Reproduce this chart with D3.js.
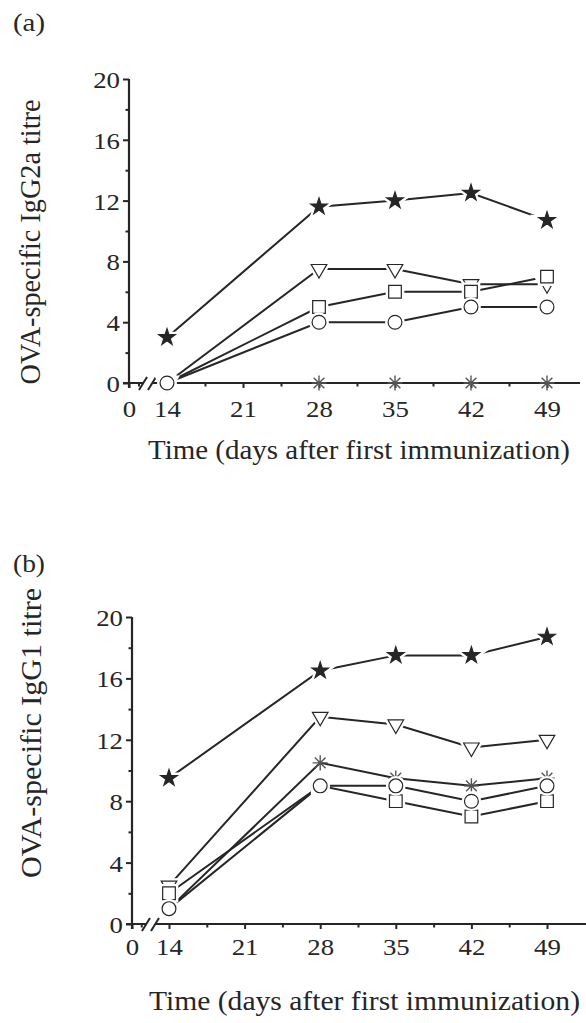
<!DOCTYPE html>
<html>
<head>
<meta charset="utf-8">
<script src="https://cdn.jsdelivr.net/npm/d3@7"></script>
<style>
    body { margin: 0; background: #fff; }
    svg text { font-family: "Liberation Serif", "Times New Roman", Times, serif; fill: #262626; }
</style>
</head>
<body>
<div id="chart"></div>
<script>
const days = [14, 28, 35, 42, 49];
const xTicks = [0, 14, 21, 28, 35, 42, 49];
const xMinorTicks = [3.5, 17.5, 24.5, 31.5, 38.5, 45.5];
const yTicks = [0, 4, 8, 12, 16, 20];
const yMinorTicks = [2, 6, 10, 14, 18];

// panel (a) IgG2a
const aStar = [3, 11.6, 12, 12.5, 10.7];
const aTriangle = [0, 7.5, 7.5, 6.5, 6.5];
const aSquare = [0, 5, 6, 6, 7];
const aCircle = [0, 4, 4, 5, 5];
const aAsterisk = [0, 0, 0, 0, 0];

// panel (b) IgG1
const bStar = [9.5, 16.5, 17.5, 17.5, 18.7];
const bTriangle = [2.5, 13.5, 13, 11.5, 12];
const bSquare = [2, 9, 8, 7, 8];
const bCircle = [1, 9, 9, 8, 9];
const bAsterisk = [1, 10.5, 9.5, 9, 9.5];

const width = 586;
const height = 1023;
const ink = "#262626";
const serif = '"Liberation Serif", "Times New Roman", Times, serif';

const asteriskType = {
    draw(context, size) {
        const r = Math.sqrt(size) / 2;
        [0, 45, 90, 135].forEach(a => {
            const t = a * Math.PI / 180;
            context.moveTo(r * Math.cos(t), r * Math.sin(t));
            context.lineTo(-r * Math.cos(t), -r * Math.sin(t));
        });
    }
};

const markers = {
    asterisk: { type: asteriskType, size: 230, fill: "none", stroke: "#555", rotate: 0, halo: false },
    triangle: { type: d3.symbolTriangle, size: 105, fill: "#fff", stroke: ink, rotate: 180, halo: true },
    square: { type: d3.symbolSquare, size: 160, fill: "#fff", stroke: ink, rotate: 0, halo: true },
    circle: { type: d3.symbolCircle, size: 150, fill: "#fff", stroke: ink, rotate: 0, halo: true },
    star: { type: d3.symbolStar, size: 85, fill: ink, stroke: ink, rotate: 0, halo: true }
};

const panels = [
    {
        tag: "(a)", tagY: 31,
        yLabel: "OVA-specific IgG2a titre", yLabelMid: 242, yLabelLen: 285, yLabelX: 40,
        axisX: 129, top: 79, bottom: 383, x14: 167, x49: 547, right: 580,
        tickDy: 34, titleY: 459, titleX0: 148, titleX1: 570,
        series: [
            ["asterisk", aAsterisk], ["triangle", aTriangle], ["square", aSquare],
            ["circle", aCircle], ["star", aStar]
        ]
    },
    {
        tag: "(b)", tagY: 572,
        yLabel: "OVA-specific IgG1 titre", yLabelMid: 733, yLabelLen: 290, yLabelX: 41,
        axisX: 132, top: 617, bottom: 924, x14: 169, x49: 547, right: 586,
        tickDy: 31, titleY: 1010, titleX0: 149, titleX1: 580,
        series: [
            ["asterisk", bAsterisk], ["triangle", bTriangle], ["square", bSquare],
            ["circle", bCircle], ["star", bStar]
        ]
    }
];

const svg = d3.select("#chart")
    .append("svg")
    .attr("width", width)
    .attr("height", height)
    .attr("viewBox", `0 0 ${width} ${height}`)
    .attr("font-family", serif);

// digits in the picture are stretched sideways
const digitWidth = 13.4;

function drawPanel(p) {
    const pxPerDay = (p.x49 - p.x14) / 35;
    const xEnd = 49 + (p.right - p.x49) / pxPerDay;

    const x = d3.scaleLinear()
        .domain([0, 14, xEnd])
        .range([p.axisX, p.x14, p.right]);

    const y = d3.scaleLinear()
        .domain([0, 20])
        .range([p.bottom, p.top]);

    const g = svg.append("g");

    g.append("text")
        .attr("x", 13)
        .attr("y", p.tagY)
        .attr("font-size", 26)
        .attr("textLength", 32)
        .attr("lengthAdjust", "spacingAndGlyphs")
        .text(p.tag);

    // y axis
    const yAxis = g.append("g")
        .attr("transform", `translate(${p.axisX},0)`)
        .call(d3.axisLeft(y).tickValues(yTicks).tickSize(6).tickFormat(d3.format("d")));

    yAxis.select(".domain").attr("d", `M0,${y(20)}V${y(0) + 5}`);

    g.append("g")
        .attr("transform", `translate(${p.axisX},0)`)
        .call(d3.axisLeft(y).tickValues(yMinorTicks).tickSize(3.5).tickFormat(""))
        .select(".domain").remove();

    // x axis, drawn with a break between 0 and 14
    const xAxis = g.append("g")
        .attr("transform", `translate(0,${p.bottom})`)
        .call(d3.axisBottom(x).tickValues(xTicks).tickSize(5).tickFormat(d3.format("d")));

    xAxis.select(".domain").remove();

    g.append("g")
        .attr("transform", `translate(0,${p.bottom})`)
        .call(d3.axisBottom(x).tickValues(xMinorTicks).tickSize(3.5).tickFormat(""))
        .select(".domain").remove();

    g.selectAll("g").attr("font-family", serif);

    g.selectAll(".tick line")
        .attr("stroke", ink)
        .attr("stroke-width", 2);

    const breakA = x(0) + 15;
    const breakB = x(0) + 24;

    g.append("path")
        .attr("d", `M${x(0) - 6},${y(0)}H${breakA}M${breakB},${y(0)}H${p.right}`)
        .attr("stroke", ink)
        .attr("stroke-width", 2.2)
        .attr("fill", "none");

    [breakA, breakB].forEach(bx => {
        g.append("line")
            .attr("x1", bx - 5).attr("y1", y(0) + 7)
            .attr("x2", bx + 3).attr("y2", y(0) - 6)
            .attr("stroke", ink)
            .attr("stroke-width", 2);
    });

    yAxis.select(".domain")
        .attr("stroke", ink)
        .attr("stroke-width", 2.2);

    yAxis.selectAll(".tick text")
        .attr("x", -9)
        .attr("dy", "0.35em")
        .attr("font-size", 24)
        .attr("textLength", d => String(d).length * digitWidth)
        .attr("lengthAdjust", "spacingAndGlyphs");

    xAxis.selectAll(".tick text")
        .attr("y", p.tickDy)
        .attr("dy", 0)
        .attr("font-size", 24)
        .attr("textLength", d => String(d).length * digitWidth)
        .attr("lengthAdjust", "spacingAndGlyphs");

    g.selectAll(".tick text").attr("fill", ink);

    // axis titles
    g.append("text")
        .attr("x", p.titleX0)
        .attr("y", p.titleY)
        .attr("font-size", 27)
        .attr("textLength", p.titleX1 - p.titleX0)
        .attr("lengthAdjust", "spacingAndGlyphs")
        .text("Time (days after first immunization)");

    g.append("text")
        .attr("transform", `translate(${p.yLabelX},${p.yLabelMid}) scale(1.15,1) rotate(-90)`)
        .attr("text-anchor", "middle")
        .attr("font-size", 26)
        .attr("textLength", p.yLabelLen)
        .attr("lengthAdjust", "spacingAndGlyphs")
        .text(p.yLabel);

    // connecting lines
    const line = d3.line()
        .x((d, i) => x(days[i]))
        .y(d => y(d));

    g.selectAll(".series-line")
        .data(p.series)
        .enter()
        .append("path")
        .attr("class", "series-line")
        .attr("d", d => line(d[1]))
        .attr("fill", "none")
        .attr("stroke", ink)
        .attr("stroke-width", 2);

    // markers, each with a white halo so the lines stop short of them
    p.series.forEach(([name, values]) => {
        const m = markers[name];
        const symbol = d3.symbol().type(m.type).size(m.size);
        const pts = values.map((v, i) => ({ day: days[i], value: v }));
        const place = d => `translate(${x(d.day)},${y(d.value)}) rotate(${m.rotate})`;

        if (m.halo) {
            g.selectAll(null)
                .data(pts)
                .enter()
                .append("path")
                .attr("d", symbol)
                .attr("transform", place)
                .attr("fill", "#fff")
                .attr("stroke", "#fff")
                .attr("stroke-width", 6);
        }

        g.selectAll(null)
            .data(pts)
            .enter()
            .append("path")
            .attr("d", symbol)
            .attr("transform", place)
            .attr("fill", m.fill)
            .attr("stroke", m.stroke)
            .attr("stroke-width", name === "asterisk" ? 1.4 : 1.2);
    });
}

panels.forEach(drawPanel);
</script>
</body>
</html>
